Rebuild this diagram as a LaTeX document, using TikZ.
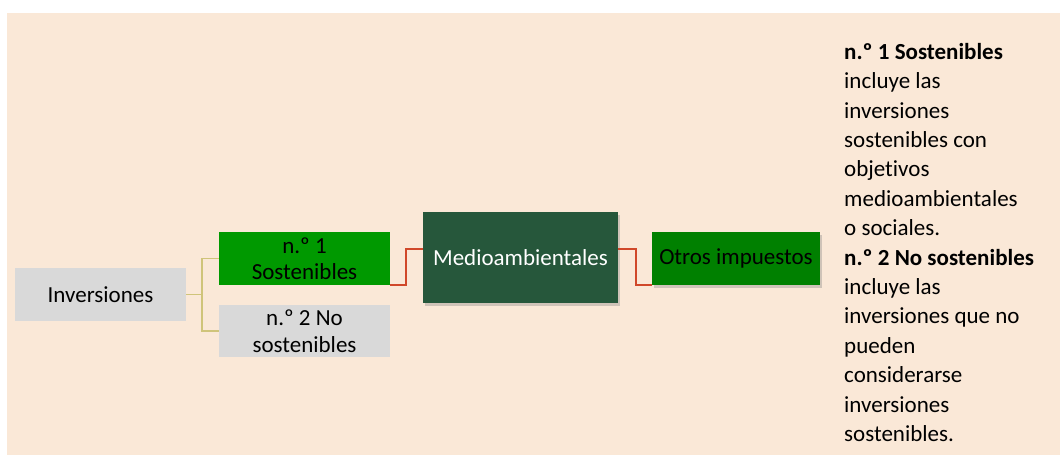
\documentclass[tikz,border=0pt]{standalone}
\usepackage{fontspec}
\setmainfont[Ligatures=NoCommon]{Carlito}
\usetikzlibrary{shadows,calc}
\definecolor{peach}{HTML}{FAE8D7}
\definecolor{boxgray}{HTML}{D9D9D9}
\definecolor{brightgreen}{HTML}{009900}
\definecolor{midgreen}{HTML}{008000}
\definecolor{darkgreen}{HTML}{26573B}
\definecolor{olive}{HTML}{CFC47A}
\definecolor{redline}{HTML}{D0482A}
\begin{document}
\begin{tikzpicture}[x=1pt,y=-1pt,
  box/.style={inner sep=0pt, align=center, font=\fontsize{23}{26.5}\selectfont},
  shad/.style={drop shadow={opacity=0.35, shadow xshift=2pt, shadow yshift=-2.5pt}},
  oline/.style={draw=olive, line width=1.5pt},
  rline/.style={draw=redline, line width=1.5pt}]
\useasboundingbox (0,0) rectangle (1060,455);
\fill[peach] (7,13) rectangle (1060,455);
\node[box, fill=boxgray, minimum width=171pt, minimum height=53pt] (inv) at (100.5,294.5) {Inversiones};
\node[box, fill=brightgreen, minimum width=171pt, minimum height=53pt] (n1) at (304.5,258.5) {\raisebox{-2pt}{\parbox{171pt}{\centering n.º 1\\Sostenibles}}};
\node[box, fill=boxgray, minimum width=171pt, minimum height=52pt] (n2) at (304.5,331) {\raisebox{-2pt}{\parbox{171pt}{\centering n.º 2 No\\sostenibles}}};
\node[box, shad, fill=darkgreen, text=white, minimum width=195pt, minimum height=91pt] (medio) at (520.5,257.5) {Medioambientales};
\node[box, shad, fill=midgreen, text=black, minimum width=168pt, minimum height=53pt] (otros) at (736,258.5) {Otros impuestos};
\coordinate (j) at (202,294.5);
\draw[oline] (inv.east) -- (j);
\draw[oline] (j) |- (n1.west);
\draw[oline] (j) |- (n2.west);
\draw[rline] (n1.south east) -- ++(16,0) |- ([yshift=8.5pt]medio.west);
\draw[rline] ([yshift=8.5pt]medio.east) -- ++(18,0) |- (otros.south west);
\node[anchor=north west, inner sep=0pt, align=left, font=\fontsize{23}{29.4}\selectfont] (txt) at (844,43) {\textbf{n.º 1 Sostenibles}\\
incluye las\\
inversiones\\
sostenibles con\\
objetivos\\
medioambientales\\
o sociales.\\
\textbf{n.º 2 No sostenibles}\\
incluye las\\
inversiones que no\\
pueden\\
considerarse\\
inversiones\\
sostenibles.};
\end{tikzpicture}
\end{document}
